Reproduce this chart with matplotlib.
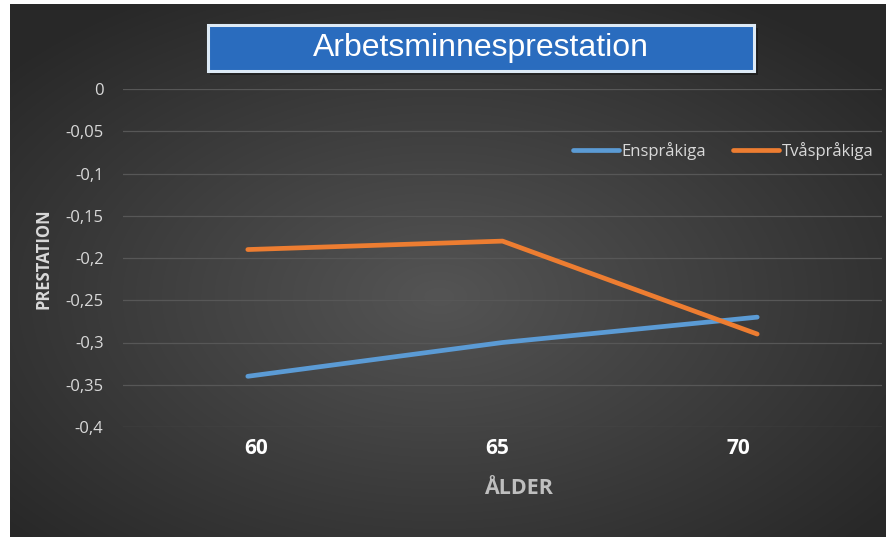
import matplotlib
matplotlib.use("Agg")
import matplotlib.pyplot as plt
import matplotlib.transforms as mtransforms
import numpy as np
from matplotlib.patches import Rectangle

W, H = 886, 537

ages = ["60", "65", "70"]
enspråkiga = [-0.34, -0.30, -0.27]
tvåspråkiga = [-0.19, -0.18, -0.29]
y_ticks = [0, -0.05, -0.1, -0.15, -0.2, -0.25, -0.3, -0.35, -0.4]
y_labels = ["0", "-0,05", "-0,1", "-0,15", "-0,2", "-0,25", "-0,3", "-0,35", "-0,4"]

BLUE = "#5B9BD5"
ORANGE = "#ED7D31"
TEXT = "#D9D9D9"

fig = plt.figure(figsize=(W / 100, H / 100), dpi=100, facecolor="white")


def fx(px):
    return px / W


def fy(py):
    return 1 - py / H


# radial dark-grey background
bg = fig.add_axes([fx(10), 0, 1 - fx(10), fy(4)])
bg.set_axis_off()
gx, gy = np.meshgrid(np.linspace(-1, 1, 400), np.linspace(-1, 1, 250))
r = np.sqrt((gx + 0.02) ** 2 + (gy - 0.1) ** 2) / 1.3
shade = np.clip(0.33 - 0.17 * r, 0.16, 0.33)
bg.imshow(np.dstack([shade] * 3), aspect="auto", extent=[0, 1, 0, 1], interpolation="bicubic")
bg.set_xlim(0, 1); bg.set_ylim(0, 1)

ax = fig.add_axes([fx(123), fy(427), fx(882) - fx(123), fy(89) - fy(427)])
ax.patch.set_alpha(0)
x = np.arange(len(ages))
ax.plot(x, enspråkiga, color=BLUE, lw=3.4, solid_capstyle="round", label="Enspråkiga", zorder=3)
ax.plot(x, tvåspråkiga, color=ORANGE, lw=3.4, solid_capstyle="round", label="Tvåspråkiga", zorder=3)
ax.set_xlim(-0.49, 2.49)
ax.set_ylim(-0.4, 0)
ax.set_yticks(y_ticks, y_labels)
ax.set_xticks(x, ages)
ax.grid(axis="y", color="#575757", lw=0.9)
ax.set_axisbelow(True)
for s in ax.spines.values():
    s.set_visible(False)
ax.tick_params(length=0)
ax.tick_params(axis="y", pad=14, labelsize=12, labelcolor=TEXT)
ax.tick_params(axis="x", pad=8, labelsize=15, labelcolor="white")
for t in ax.get_yticklabels():
    t.set_fontfamily("Open Sans")
# category labels sit slightly toward the centre, as in the office-style chart
for t, shift in zip(ax.get_xticklabels(), [8, -5, -19]):
    t.set_fontfamily("Open Sans"); t.set_fontweight("bold")
    t.set_transform(t.get_transform() + mtransforms.ScaledTranslation(shift / 100, 0, fig.dpi_scale_trans))

fig.text(fx(518), fy(488), "ÅLDER", ha="center", va="center", fontsize=15.5, fontweight="bold",
         color="#BFBFBF", family="Open Sans")
fig.text(fx(44), fy(259), "PRESTATION", ha="center", va="center", rotation=90, fontsize=12,
         fontweight="bold", color=TEXT, family="Open Sans")

leg = ax.legend(loc="center", bbox_to_anchor=(fx(723), fy(151)), bbox_transform=fig.transFigure,
                ncol=2, frameon=False, handlelength=2.8, handletextpad=0.12, columnspacing=1.6,
                prop={"family": "Open Sans", "size": 12})
for t in leg.get_texts():
    t.set_color(TEXT)

# title box with drop shadow
fig.patches.append(Rectangle((fx(210), fy(75)), fx(548), fy(0) - fy(47), transform=fig.transFigure,
                             facecolor="black", alpha=0.35, edgecolor="none", zorder=5))
fig.patches.append(Rectangle((fx(208), fy(71)), fx(546), fy(0) - fy(46), transform=fig.transFigure,
                             facecolor="#2A6CBE", edgecolor="#DDEAF6", lw=2.2, zorder=6))
fig.text(fx(481), fy(48), "Arbetsminnesprestation", ha="center", va="center", fontsize=23,
         color="white", family="Liberation Sans", zorder=7)

fig.savefig("out.png", dpi=100, facecolor=fig.get_facecolor())
